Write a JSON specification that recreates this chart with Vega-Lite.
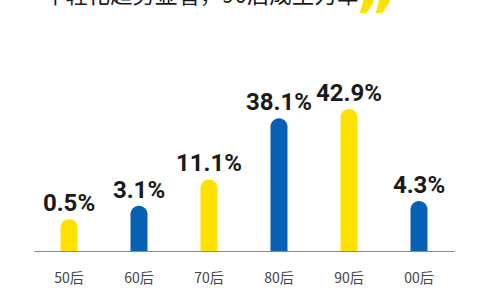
{
  "$schema": "https://vega.github.io/schema/vega-lite/v6.json",
  "autosize": {"type": "none"},
  "width": 420,
  "height": 191,
  "padding": {"left": 34, "top": 60, "right": 26, "bottom": 49},
  "background": "white",
  "title": {
    "text": "年轻化趋势显著，90后成主力军",
    "anchor": "start",
    "frame": "group",
    "orient": "top",
    "font": "Noto Sans CJK SC",
    "fontSize": 22.4,
    "fontWeight": "normal",
    "color": "#1a1a1a",
    "baseline": "alphabetic",
    "offset": 0,
    "dy": 37,
    "dx": 9
  },
  "config": {"view": {"stroke": null}},
  "data": {
    "values": [
      {"gen": "50后", "value": 0.5, "label": "0.5%"},
      {"gen": "60后", "value": 3.1, "label": "3.1%"},
      {"gen": "70后", "value": 11.1, "label": "11.1%"},
      {"gen": "80后", "value": 38.1, "label": "38.1%"},
      {"gen": "90后", "value": 42.9, "label": "42.9%"},
      {"gen": "00后", "value": 4.3, "label": "4.3%"}
    ]
  },
  "encoding": {
    "x": {
      "field": "gen",
      "type": "nominal",
      "sort": null,
      "scale": {"paddingInner": 0, "paddingOuter": 0},
      "axis": {
        "title": null,
        "labelAngle": 0,
        "ticks": false,
        "domainColor": "#8a8a8a",
        "domainWidth": 1,
        "labelFont": "Noto Sans CJK SC",
        "labelFontSize": 14,
        "labelColor": "#444444",
        "labelPadding": 20,
        "grid": false
      }
    }
  },
  "layer": [
    {
      "mark": {"type": "bar", "width": 17, "cornerRadiusTopLeft": 8.5, "cornerRadiusTopRight": 8.5},
      "encoding": {
        "y": {
          "field": "value",
          "type": "quantitative",
          "scale": {"type": "pow", "exponent": 0.7, "domain": [-5.37, 71.2], "zero": false, "nice": false},
          "axis": null
        },
        "y2": {"datum": -5.37},
        "color": {
          "field": "gen",
          "type": "nominal",
          "sort": null,
          "scale": {
            "domain": ["50后", "60后", "70后", "80后", "90后", "00后"],
            "range": ["#FFE100", "#0860B4", "#FFE100", "#0860B4", "#FFE100", "#0860B4"]
          },
          "legend": null
        }
      }
    },
    {
      "mark": {"type": "text", "font": "Roboto", "fontWeight": "bold", "fontSize": 24, "color": "#1a1a1a", "baseline": "alphabetic", "dy": -8},
      "encoding": {
        "y": {"field": "value", "type": "quantitative"},
        "text": {"field": "label"}
      }
    },
    {
      "data": {"values": [{"q": "”"}]},
      "mark": {"type": "text", "font": "DejaVu Sans", "fontWeight": "bold", "fontSize": 64, "color": "#FFE100", "baseline": "alphabetic", "dx": 26},
      "encoding": {
        "x": {"datum": "90后"},
        "y": {"datum": 84},
        "text": {"field": "q"}
      }
    }
  ]
}
